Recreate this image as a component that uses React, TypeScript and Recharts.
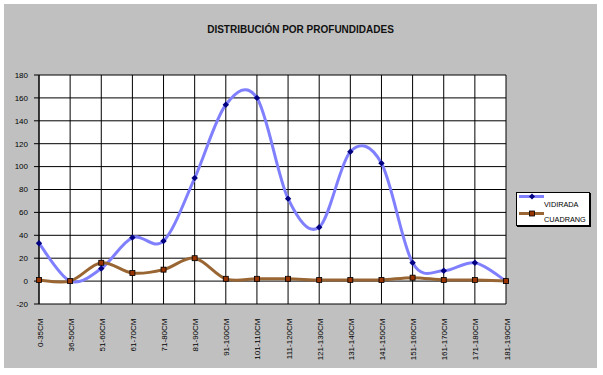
import React from "react"
import { LineChart, Line, XAxis, YAxis, CartesianGrid, Legend } from "recharts"

const categories = [
  "0-35CM", "36-50CM", "51-60CM", "61-70CM", "71-80CM", "81-90CM", "91-100CM", "101-110CM",
  "111-120CM", "121-130CM", "131-140CM", "141-150CM", "151-160CM", "161-170CM", "171-180CM", "181-190CM",
]
const vidirada = [33, 0, 11, 38, 35, 90, 154, 160, 72, 47, 113, 103, 16, 9, 16, 0]
const cuadrang = [1, 0, 16, 7, 10, 20, 2, 2, 2, 1, 1, 1, 3, 1, 1, 0]
const yTicks = [-20, 0, 20, 40, 60, 80, 100, 120, 140, 160, 180]

const Y_MIN = -20
const Y_MAX = 180
const PLOT_TOP = 71
const PLOT_H = 265
const FONT = "Arial, 'Liberation Sans', sans-serif"

const data = categories.map((c, i) => ({ cat: c, vidirada: vidirada[i], cuadrang: cuadrang[i] }))

// excel style smoothed line (catmull-rom through the points)
function excelSmooth(context: any) {
  let xs: number[] = []
  let ys: number[] = []
  return {
    areaStart() {},
    areaEnd() {},
    lineStart() {
      xs = []
      ys = []
    },
    lineEnd() {
      const n = xs.length
      if (!n) return
      context.moveTo(xs[0], ys[0])
      for (let i = 0; i < n - 1; i++) {
        const a = Math.max(i - 1, 0)
        const d = Math.min(i + 2, n - 1)
        const c1x = xs[i] + (xs[i + 1] - xs[a]) / 6
        const c1y = ys[i] + (ys[i + 1] - ys[a]) / 6
        const c2x = xs[i + 1] - (xs[d] - xs[i]) / 6
        const c2y = ys[i + 1] - (ys[d] - ys[i]) / 6
        context.bezierCurveTo(c1x, c1y, c2x, c2y, xs[i + 1], ys[i + 1])
      }
    },
    point(x: number, y: number) {
      xs.push(+x)
      ys.push(+y)
    },
  }
}

const Diamond = (props: any) => {
  const { cx, cy } = props
  if (cx == null || cy == null) return null
  const r = 3.2
  return <polygon points={`${cx},${cy - r} ${cx + r},${cy} ${cx},${cy + r} ${cx - r},${cy}`} fill="#000080" />
}

const Square = (props: any) => {
  const { cx, cy } = props
  if (cx == null || cy == null) return null
  return <rect x={cx - 2.5} y={cy - 2.5} width={5} height={5} fill="#993300" stroke="#000" strokeWidth={0.8} />
}

const CatTick = (props: any) => {
  const { x, payload } = props
  const zeroY = PLOT_TOP + (PLOT_H * Y_MAX) / (Y_MAX - Y_MIN)
  const tx = x + 3.5
  const ty = zeroY + 5
  return (
    <text
      x={tx}
      y={ty}
      transform={`rotate(-90, ${tx}, ${ty})`}
      textAnchor="end"
      fontSize={8}
      fontFamily={FONT}
      fill="#000"
    >
      {payload.value}
    </text>
  )
}

const LegendBox = () => (
  <div
    style={{
      width: 72,
      height: 32,
      background: "#fff",
      border: "1px solid #000",
      boxShadow: "1px 1px 0 #000",
      fontFamily: FONT,
      fontSize: 7.3,
      color: "#000",
      position: "relative",
    }}
  >
    <svg width={30} height={32} style={{ position: "absolute", left: 1, top: 0 }}>
      <line x1={1} y1={3.5} x2={26} y2={3.5} stroke="#8080FF" strokeWidth={3} />
      <polygon points="14,0.5 17,3.5 14,6.5 11,3.5" fill="#000080" />
      <line x1={1} y1={20.5} x2={26} y2={20.5} stroke="#996633" strokeWidth={3} />
      <rect x={11.5} y={18} width={5} height={5} fill="#993300" stroke="#000" strokeWidth={0.8} />
    </svg>
    <div style={{ position: "absolute", left: 27, top: 8, lineHeight: "8px", whiteSpace: "nowrap" }}>VIDIRADA</div>
    <div style={{ position: "absolute", left: 27, top: 23, lineHeight: "8px", whiteSpace: "nowrap" }}>CUADRANG</div>
  </div>
)

export default function App() {
  return (
    <div style={{ position: "absolute", left: 0, top: 0, width: 603, height: 375, background: "#fff" }}>
      <div style={{ position: "absolute", left: 4, top: 4, width: 593, height: 364, background: "#C0C0C0" }}>
        <div
          style={{
            position: "absolute",
            top: 20,
            width: 593,
            textAlign: "center",
            fontFamily: FONT,
            fontWeight: "bold",
            fontSize: 10,
            color: "#111",
          }}
        >
          DISTRIBUCIÓN POR PROFUNDIDADES
        </div>
        <LineChart width={593} height={356} data={data} margin={{ top: PLOT_TOP, right: 91, left: 0, bottom: 0 }}>
          <CartesianGrid stroke="#000" fill="#fff" fillOpacity={1} />
          <XAxis
            dataKey="cat"
            height={20}
            interval={0}
            axisLine={false}
            tickLine={false}
            tick={<CatTick />}
          />
          <YAxis
            width={35}
            domain={[Y_MIN, Y_MAX]}
            ticks={yTicks}
            interval={0}
            tickSize={5}
            tickMargin={6}
            stroke="#000"
            tick={{ fill: "#000", fontSize: 8, fontFamily: FONT }}
          />
          <Legend
            content={<LegendBox />}
            wrapperStyle={{ left: 512, top: 188, width: 76, height: 36 }}
          />
          <Line
            dataKey="vidirada"
            name="VIDIRADA"
            type={excelSmooth as any}
            stroke="#8080FF"
            strokeWidth={3}
            dot={<Diamond />}
            activeDot={false}
            isAnimationActive={false}
          />
          <Line
            dataKey="cuadrang"
            name="CUADRANG"
            type={excelSmooth as any}
            stroke="#996633"
            strokeWidth={3}
            dot={<Square />}
            activeDot={false}
            isAnimationActive={false}
          />
        </LineChart>
      </div>
    </div>
  )
}
